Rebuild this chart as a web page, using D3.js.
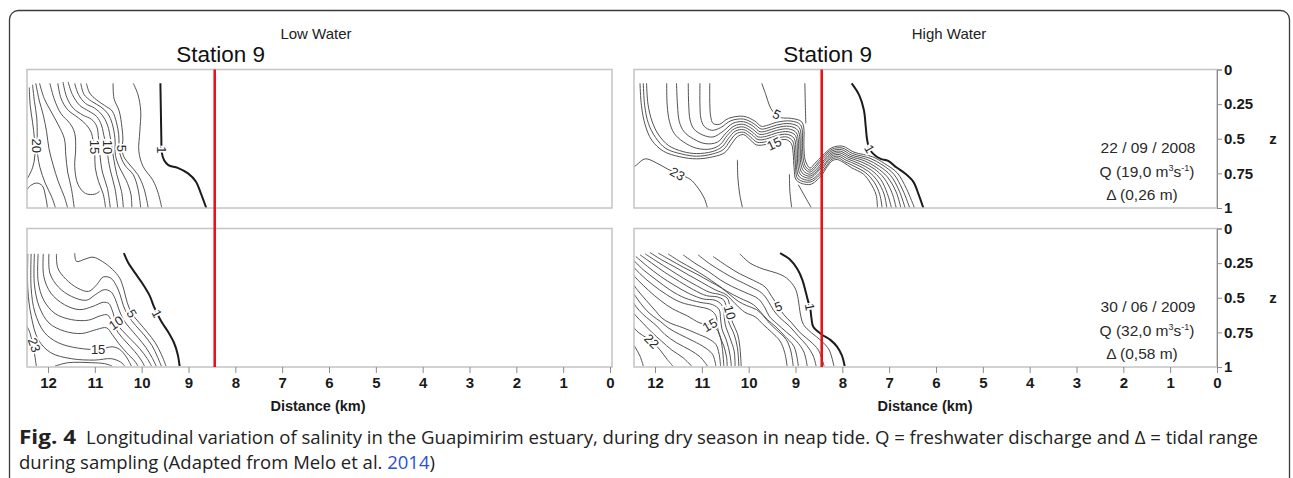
<!DOCTYPE html>
<html><head><meta charset="utf-8">
<script src="https://cdn.jsdelivr.net/npm/d3@7"></script>
<style>
body{margin:0;background:#fff;}
svg{display:block;font-family:"Liberation Sans",Arial,sans-serif;}
</style></head><body>
<svg id="c" width="1293" height="478"></svg>
<script>
// ---------- axes values ----------
const distanceTicks = [12,11,10,9,8,7,6,5,4,3,2,1,0];
const depthTicks = [0,0.25,0.5,0.75,1];
const stationKm = 8.44;
const columnTitles = ["Low Water","High Water"];
const stationName = "Station 9";
const campaignDates = ["22 / 09 / 2008","30 / 06 / 2009"];
const discharges = ["19,0","32,0"];
const tidalRanges = ["0,26 m","0,58 m"];

// ---------- isohalines [distance km, relative depth z] ----------
// Low water, 22/09/2008
const lowWater2008 = [
 [[12.40,0.13],[12.38,0.26],[12.33,0.38],[12.29,0.50],[12.28,0.62],[12.33,0.71],[12.43,0.78],[12.49,0.81]],
 [[12.33,0.11],[12.29,0.23],[12.24,0.35],[12.23,0.48],[12.23,0.55],[12.22,0.62],[12.17,0.71],[12.06,0.82],[11.92,0.92],[11.84,1.0]],
 [[12.26,0.10],[12.19,0.22],[12.10,0.33],[12.03,0.45],[11.98,0.57],[11.89,0.69],[11.78,0.81],[11.65,0.92],[11.58,1.0]],
 [[12.18,0.10],[12.08,0.21],[11.94,0.30],[11.78,0.40],[11.65,0.50],[11.62,0.62],[11.58,0.74],[11.50,0.86],[11.44,1.0]],
 [[12.49,0.89],[12.38,0.84],[12.24,0.82],[12.12,0.84],[12.05,0.92],[12.01,1.0]],
 [[11.96,0.10],[11.86,0.22],[11.72,0.32],[11.53,0.39],[11.43,0.46],[11.41,0.58],[11.43,0.70],[11.36,0.83],[11.20,0.895],[11.00,0.90],[10.90,0.88]],
 [[11.79,0.10],[11.72,0.21],[11.58,0.29],[11.35,0.35],[11.18,0.40],[11.07,0.46],[11.04,0.51],[11.00,0.56],[11.00,0.62],[10.99,0.71],[10.92,0.81],[10.82,0.90],[10.77,1.0]],
 [[11.68,0.09],[11.60,0.20],[11.46,0.28],[11.25,0.33],[11.07,0.36],[10.96,0.41],[10.92,0.50],[10.89,0.62],[10.84,0.74],[10.73,0.86],[10.67,1.0]],
 [[11.57,0.09],[11.48,0.18],[11.32,0.26],[11.13,0.30],[10.96,0.34],[10.86,0.40],[10.79,0.50],[10.72,0.56],[10.72,0.63],[10.66,0.74],[10.57,0.86],[10.51,1.0]],
 [[11.43,0.10],[11.35,0.18],[11.20,0.245],[11.00,0.28],[10.84,0.33],[10.73,0.40],[10.66,0.51],[10.60,0.64],[10.53,0.76],[10.43,0.88],[10.39,1.0]],
 [[11.30,0.10],[11.23,0.18],[11.07,0.23],[10.87,0.27],[10.72,0.32],[10.63,0.39],[10.57,0.50],[10.56,0.62],[10.47,0.71],[10.33,0.80],[10.23,0.90],[10.21,1.0]],
 [[11.18,0.10],[11.11,0.17],[10.96,0.22],[10.79,0.26],[10.63,0.30],[10.54,0.38],[10.49,0.47],[10.47,0.60],[10.36,0.69],[10.18,0.76],[10.08,0.86],[10.02,1.0]],
 [[10.61,0.10],[10.59,0.21],[10.48,0.30],[10.42,0.42],[10.40,0.51],[10.42,0.57],[10.38,0.63],[10.25,0.69],[10.08,0.76],[9.95,0.86],[9.86,1.0]],
 [[10.18,0.10],[10.08,0.18],[10.02,0.30],[10.04,0.45],[10.06,0.59],[9.97,0.70],[9.76,0.80],[9.65,0.89],[9.57,1.0]]
];
const lowWater2008Fresh = [[9.60,0.10],[9.59,0.30],[9.58,0.50],[9.57,0.60],[9.52,0.655],[9.43,0.69],[9.23,0.71],[9.01,0.75],[8.84,0.81],[8.74,0.89],[8.62,1.0]];
const lowWater2008Labels = [["20",12.24,0.55,90],["15",11.00,0.56,90],["10",10.72,0.56,90],["5",10.42,0.57,90],["1",9.57,0.58,90]];

// Low water, 30/06/2009
const lowWater2009 = [
 [[11.43,0.178],[11.39,0.238],[11.21,0.221],[11.04,0.207],[10.84,0.238],[10.63,0.293],[10.47,0.358],[10.38,0.442],[10.31,0.533],[10.21,0.614],[10.06,0.677],[9.88,0.749],[9.71,0.825],[9.58,0.909],[9.48,0.993]],
 [[11.82,0.183],[11.79,0.286],[11.62,0.365],[11.37,0.43],[11.13,0.454],[10.96,0.406],[10.82,0.35],[10.66,0.358],[10.54,0.413],[10.46,0.478],[10.39,0.557],[10.29,0.629],[10.13,0.70],[9.95,0.768],[9.78,0.845],[9.67,0.921],[9.58,0.993]],
 [[11.98,0.183],[11.96,0.322],[11.78,0.422],[11.50,0.49],[11.18,0.518],[10.99,0.478],[10.80,0.442],[10.66,0.456],[10.57,0.504],[10.49,0.581],[10.39,0.658],[10.25,0.72],[10.08,0.787],[9.91,0.859],[9.78,0.931],[9.69,0.993]],
 [[12.10,0.183],[12.09,0.346],[11.94,0.466],[11.65,0.55],[11.32,0.586],[11.04,0.562],[10.82,0.533],[10.70,0.542],[10.63,0.59],[10.54,0.682],[10.42,0.734],[10.23,0.801],[10.04,0.868],[9.88,0.94],[9.79,0.993]],
 [[12.21,0.183],[12.21,0.382],[12.09,0.518],[11.85,0.614],[11.50,0.658],[11.14,0.662],[10.87,0.629],[10.73,0.624],[10.63,0.677],[10.50,0.753],[10.33,0.82],[10.15,0.887],[10.01,0.95],[9.94,0.993]],
 [[12.29,0.183],[12.29,0.406],[12.19,0.562],[11.98,0.682],[11.65,0.741],[11.28,0.758],[10.96,0.729],[10.75,0.717],[10.63,0.765],[10.49,0.83],[10.32,0.897],[10.15,0.957],[10.08,0.993]],
 [[12.36,0.183],[12.36,0.43],[12.28,0.605],[12.08,0.749],[11.78,0.825],[11.35,0.864],[10.91,0.873],[10.63,0.854],[10.47,0.873],[10.33,0.926],[10.22,0.993]],
 [[12.43,0.183],[12.43,0.442],[12.36,0.629],[12.21,0.801],[11.94,0.897],[11.50,0.94],[11.00,0.95],[10.65,0.94],[10.45,0.964],[10.36,0.993]],
 [[12.49,0.214],[12.46,0.346],[12.45,0.466],[12.47,0.528],[12.49,0.542]],
 [[12.49,0.682],[12.39,0.749],[12.33,0.83],[12.28,0.921],[12.25,0.993]],
 [[11.85,0.993],[11.57,0.969],[11.07,0.969],[10.79,0.976],[10.63,0.993]]
];
const lowWater2009Fresh = [[10.38,0.178],[10.29,0.245],[10.15,0.317],[9.99,0.394],[9.83,0.485],[9.74,0.562],[9.67,0.614],[9.57,0.677],[9.43,0.749],[9.31,0.825],[9.23,0.909],[9.19,0.993]];
const lowWater2009Labels = [["1",9.67,0.614,63],["5",10.21,0.614,60],["10",10.55,0.68,-35],["15",10.93,0.873,0],["23",12.29,0.84,70]];

// High water, 22/09/2008
const highWater2008 = [
 [[12.32,0.10],[12.29,0.26],[12.21,0.40],[12.07,0.51],[11.82,0.59],[11.47,0.63],[11.11,0.645],[10.76,0.63],[10.51,0.60],[10.36,0.535],[10.24,0.485],[10.11,0.47],[9.97,0.506],[9.83,0.545],[9.62,0.54],[9.40,0.516],[9.20,0.506],[9.09,0.535],[9.05,0.605],[9.03,0.71],[8.98,0.80],[8.69,0.83],[8.46,0.77],[8.32,0.70],[8.22,0.66],[8.11,0.65],[7.98,0.67],[7.80,0.71],[7.55,0.755],[7.40,0.82],[7.28,0.904],[7.25,1.0]],
 [[12.25,0.10],[12.22,0.26],[12.14,0.39],[11.99,0.49],[11.77,0.57],[11.43,0.61],[11.11,0.626],[10.77,0.61],[10.54,0.578],[10.40,0.516],[10.27,0.465],[10.11,0.453],[9.96,0.487],[9.82,0.525],[9.62,0.521],[9.40,0.497],[9.19,0.487],[9.06,0.516],[9.02,0.597],[9.00,0.708],[8.95,0.789],[8.69,0.813],[8.48,0.76],[8.33,0.691],[8.22,0.648],[8.09,0.638],[7.95,0.665],[7.75,0.698],[7.50,0.746],[7.32,0.813],[7.20,0.904],[7.15,1.0]],
 [[12.18,0.10],[12.15,0.25],[12.06,0.377],[11.92,0.473],[11.71,0.549],[11.40,0.593],[11.11,0.607],[10.78,0.593],[10.57,0.559],[10.43,0.497],[10.29,0.446],[10.11,0.434],[9.94,0.468],[9.80,0.506],[9.62,0.501],[9.40,0.477],[9.18,0.468],[9.03,0.497],[8.99,0.593],[8.98,0.70],[8.92,0.775],[8.69,0.799],[8.49,0.748],[8.35,0.681],[8.22,0.636],[8.08,0.626],[7.92,0.655],[7.69,0.688],[7.44,0.736],[7.25,0.804],[7.11,0.899],[7.05,1.0]],
 [[11.75,0.10],[11.74,0.257],[11.69,0.377],[11.59,0.461],[11.40,0.521],[11.11,0.569],[10.80,0.573],[10.60,0.54],[10.46,0.477],[10.30,0.427],[10.11,0.415],[9.93,0.449],[9.79,0.487],[9.62,0.482],[9.40,0.458],[9.16,0.449],[9.00,0.477],[8.96,0.588],[8.95,0.693],[8.89,0.76],[8.69,0.784],[8.52,0.736],[8.36,0.672],[8.22,0.624],[8.07,0.614],[7.89,0.645],[7.64,0.679],[7.38,0.727],[7.18,0.794],[7.04,0.895],[6.95,1.0]],
 [[11.54,0.10],[11.52,0.257],[11.48,0.377],[11.38,0.449],[11.18,0.501],[10.93,0.535],[10.67,0.525],[10.48,0.458],[10.31,0.408],[10.11,0.396],[9.92,0.429],[9.77,0.468],[9.62,0.463],[9.40,0.439],[9.15,0.429],[8.98,0.458],[8.93,0.583],[8.92,0.684],[8.86,0.746],[8.69,0.77],[8.52,0.724],[8.38,0.662],[8.22,0.612],[8.05,0.602],[7.86,0.636],[7.58,0.669],[7.32,0.717],[7.11,0.784],[6.94,0.89],[6.85,1.0]],
 [[11.29,0.10],[11.28,0.257],[11.25,0.365],[11.17,0.429],[10.98,0.473],[10.76,0.487],[10.54,0.444],[10.34,0.389],[10.11,0.377],[9.90,0.41],[9.76,0.449],[9.62,0.444],[9.40,0.42],[9.13,0.41],[8.95,0.439],[8.90,0.578],[8.89,0.674],[8.83,0.732],[8.69,0.756],[8.53,0.712],[8.39,0.652],[8.22,0.60],[8.04,0.59],[7.84,0.626],[7.52,0.66],[7.27,0.708],[7.04,0.775],[6.85,0.885],[6.75,1.0]],
 [[11.04,0.10],[11.04,0.257],[11.02,0.353],[10.95,0.41],[10.79,0.439],[10.60,0.42],[10.38,0.37],[10.11,0.358],[9.89,0.391],[9.74,0.429],[9.62,0.425],[9.40,0.401],[9.12,0.391],[8.92,0.42],[8.88,0.573],[8.86,0.665],[8.80,0.717],[8.69,0.741],[8.55,0.70],[8.41,0.643],[8.22,0.588],[8.02,0.578],[7.81,0.617],[7.47,0.65],[7.21,0.698],[6.97,0.765],[6.78,0.88],[6.66,1.0]],
 [[10.83,0.10],[10.83,0.245],[10.81,0.341],[10.76,0.389],[10.63,0.396],[10.43,0.353],[10.11,0.338],[9.87,0.372],[9.73,0.41],[9.62,0.405],[9.40,0.381],[9.10,0.372],[8.89,0.401],[8.85,0.569],[8.83,0.655],[8.78,0.703],[8.69,0.727],[8.56,0.688],[8.42,0.633],[8.22,0.576],[8.01,0.566],[7.78,0.607],[7.41,0.641],[7.15,0.688],[6.90,0.756],[6.71,0.87],[6.56,1.0]],
 [[9.72,0.10],[9.63,0.185],[9.56,0.257],[9.49,0.30],[9.40,0.329],[9.30,0.348],[9.09,0.353],[8.86,0.381],[8.82,0.564],[8.80,0.645],[8.75,0.688],[8.69,0.712],[8.58,0.676],[8.43,0.624],[8.22,0.564],[7.99,0.554],[7.75,0.597],[7.35,0.631],[7.10,0.679],[6.83,0.746],[6.63,0.861],[6.46,1.0]],
 [[12.53,0.724],[12.39,0.688],[12.21,0.645],[11.96,0.676],[11.74,0.717],[11.52,0.753],[11.25,0.792],[11.08,0.856],[10.95,0.928],[10.88,1.0]],
 [[10.24,0.652],[10.23,0.784],[10.19,0.904],[10.13,1.0]],
 [[9.13,0.756],[9.12,0.88],[9.08,1.0]],
 [[8.94,0.832],[8.80,0.916],[8.66,1.0]],
 [[8.80,0.10],[8.79,0.257],[8.78,0.389]]
];
const highWater2008Fresh = [[7.80,0.10],[7.64,0.185],[7.54,0.293],[7.50,0.413],[7.47,0.509],[7.42,0.573],[7.30,0.621],[7.18,0.645],[7.02,0.66],[6.84,0.708],[6.66,0.751],[6.48,0.813],[6.37,0.904],[6.27,1.0]];
const highWater2008Labels = [["5",9.40,0.324,25],["15",9.46,0.535,-25],["23",11.52,0.753,30],["1",7.42,0.573,60]];

// High water, 30/06/2009
const highWater2009 = [
 [[10.19,0.183],[9.97,0.25],[9.69,0.293],[9.40,0.322],[9.19,0.358],[9.01,0.43],[8.94,0.514],[8.90,0.61],[8.83,0.693],[8.66,0.753],[8.44,0.813],[8.28,0.878],[8.18,0.993]],
 [[10.76,0.202],[10.47,0.269],[10.19,0.327],[9.90,0.374],[9.65,0.422],[9.51,0.49],[9.37,0.562],[9.25,0.622],[9.08,0.682],[8.90,0.753],[8.69,0.813],[8.51,0.878],[8.39,0.993]],
 [[11.08,0.19],[10.83,0.255],[10.54,0.317],[10.26,0.37],[9.97,0.418],[9.72,0.466],[9.58,0.526],[9.47,0.59],[9.33,0.645],[9.13,0.705],[8.94,0.777],[8.76,0.844],[8.62,0.921],[8.56,0.993]],
 [[11.40,0.19],[11.15,0.25],[10.86,0.31],[10.61,0.37],[10.36,0.418],[10.08,0.461],[9.79,0.509],[9.65,0.574],[9.56,0.634],[9.40,0.686],[9.19,0.749],[8.98,0.813],[8.82,0.892],[8.75,0.993]],
 [[11.72,0.183],[11.47,0.238],[11.18,0.293],[10.91,0.35],[10.67,0.406],[10.46,0.454],[10.19,0.502],[9.90,0.55],[9.74,0.605],[9.60,0.658],[9.42,0.71],[9.23,0.777],[9.03,0.854],[8.94,0.993]],
 [[11.93,0.178],[11.68,0.226],[11.40,0.279],[11.11,0.329],[10.83,0.382],[10.58,0.43],[10.40,0.478],[10.22,0.526],[10.04,0.557],[9.83,0.586],[9.69,0.629],[9.56,0.682],[9.40,0.734],[9.20,0.801],[9.10,0.885],[9.05,0.993]],
 [[12.11,0.173],[11.86,0.226],[11.57,0.279],[11.29,0.334],[11.00,0.389],[10.72,0.442],[10.48,0.478],[10.29,0.542],[10.08,0.605],[9.86,0.638],[9.69,0.693],[9.51,0.749],[9.33,0.813],[9.23,0.897],[9.18,0.993]],
 [[12.21,0.183],[11.96,0.238],[11.68,0.298],[11.40,0.358],[11.11,0.413],[10.83,0.461],[10.60,0.478],[10.46,0.502],[10.41,0.55],[10.40,0.605],[10.34,0.682],[10.24,0.758],[10.19,0.849],[10.16,0.993]],
 [[12.32,0.19],[12.07,0.25],[11.79,0.317],[11.48,0.382],[11.18,0.442],[10.90,0.485],[10.67,0.494],[10.53,0.518],[10.47,0.581],[10.43,0.67],[10.31,0.765],[10.24,0.861],[10.21,0.993]],
 [[12.41,0.202],[12.16,0.274],[11.88,0.346],[11.57,0.413],[11.27,0.47],[10.97,0.509],[10.72,0.518],[10.58,0.55],[10.53,0.614],[10.50,0.693],[10.40,0.789],[10.31,0.885],[10.29,0.993]],
 [[12.48,0.221],[12.25,0.298],[11.96,0.374],[11.67,0.446],[11.36,0.502],[11.04,0.533],[10.77,0.55],[10.63,0.586],[10.60,0.653],[10.57,0.725],[10.47,0.813],[10.40,0.909],[10.37,0.993]],
 [[12.53,0.25],[12.32,0.327],[12.05,0.406],[11.75,0.478],[11.45,0.533],[11.11,0.562],[10.83,0.586],[10.70,0.629],[10.67,0.70],[10.63,0.765],[10.53,0.849],[10.47,0.933],[10.46,0.993]],
 [[12.53,0.31],[12.36,0.374],[12.14,0.446],[11.89,0.518],[11.62,0.581],[11.32,0.629],[11.04,0.682],[10.83,0.696],[10.67,0.734],[10.61,0.777],[10.56,0.873],[10.53,0.993]],
 [[12.53,0.37],[12.38,0.442],[12.19,0.518],[11.98,0.598],[11.86,0.645],[11.68,0.682],[11.40,0.717],[11.11,0.758],[10.86,0.796],[10.70,0.837],[10.63,0.909],[10.60,0.993]],
 [[12.53,0.43],[12.39,0.502],[12.21,0.581],[12.04,0.634],[11.89,0.67],[11.72,0.717],[11.47,0.765],[11.18,0.813],[10.93,0.861],[10.77,0.909],[10.70,0.993]],
 [[12.53,0.49],[12.41,0.562],[12.25,0.622],[12.11,0.662],[11.96,0.705],[11.79,0.765],[11.54,0.825],[11.25,0.878],[11.04,0.926],[10.88,0.993]],
 [[12.53,0.574],[12.41,0.629],[12.25,0.686],[12.07,0.749],[11.86,0.813],[11.64,0.878],[11.40,0.933],[11.22,0.993]],
 [[12.53,0.682],[12.36,0.749],[12.18,0.789],[12.05,0.82],[11.89,0.878],[11.74,0.945],[11.62,0.993]],
 [[12.53,0.801],[12.43,0.854],[12.32,0.921],[12.25,0.993]]
];
const highWater2009Fresh = [[9.33,0.178],[9.13,0.221],[8.96,0.293],[8.85,0.374],[8.78,0.461],[8.73,0.526],[8.69,0.566],[8.66,0.645],[8.62,0.71],[8.44,0.765],[8.25,0.806],[8.11,0.854],[8.01,0.916],[7.95,0.993]];
const highWater2009Labels = [["1",8.69,0.566,80],["5",9.37,0.562,-20],["10",10.40,0.605,75],["15",10.83,0.696,-30],["22",12.07,0.813,45]];

// ---------- drawing ----------
const svg = d3.select("#c");
const xLeft = d3.scaleLinear().domain([12,0]).range([48,610]);
const xRight = d3.scaleLinear().domain([12,0]).range([655,1217]);
const yTop = d3.scaleLinear().domain([0,1]).range([69.5,208]);
const yBot = d3.scaleLinear().domain([0,1]).range([228.5,367]);

// outer rounded frame
svg.append("rect").attr("x",9.5).attr("y",10.5).attr("width",1280).attr("height",560)
  .attr("rx",9).attr("fill","none").attr("stroke","#3a3a3a").attr("stroke-width",1.3);

const panels = [
 {lines: lowWater2008, fresh: lowWater2008Fresh, labels: lowWater2008Labels, x: xLeft, y: yTop, x0: 27, x1: 612},
 {lines: lowWater2009, fresh: lowWater2009Fresh, labels: lowWater2009Labels, x: xLeft, y: yBot, x0: 27, x1: 612},
 {lines: highWater2008, fresh: highWater2008Fresh, labels: highWater2008Labels, x: xRight, y: yTop, x0: 634, x1: 1217},
 {lines: highWater2009, fresh: highWater2009Fresh, labels: highWater2009Labels, x: xRight, y: yBot, x0: 634, x1: 1217}
];

panels.forEach((p, i) => {
  const [ya, yb] = p.y.range();
  const clipId = "clip" + i;
  svg.append("clipPath").attr("id", clipId).append("rect")
    .attr("x", p.x0).attr("y", ya).attr("width", p.x1 - p.x0).attr("height", yb - ya);
  const g = svg.append("g").attr("clip-path", `url(#${clipId})`);
  const line = d3.line().x(d => p.x(d[0])).y(d => p.y(d[1])).curve(d3.curveCatmullRom.alpha(0.5));
  g.selectAll("path.iso").data(p.lines).join("path").attr("class","iso")
    .attr("d", line).attr("fill","none").attr("stroke","#4a4a4a").attr("stroke-width",0.95);
  g.append("path").datum(p.fresh).attr("d", line).attr("fill","none")
    .attr("stroke","#1c1c1c").attr("stroke-width",2);
  g.selectAll("text.lab").data(p.labels).join("text").attr("class","lab")
    .attr("transform", d => `translate(${p.x(d[1])},${p.y(d[2])}) rotate(${d[3]})`)
    .attr("text-anchor","middle").attr("dy","0.36em")
    .attr("font-size",13).attr("fill","#2a2a2a")
    .attr("stroke","#fff").attr("stroke-width",3.5).attr("paint-order","stroke")
    .text(d => d[0]);
  svg.append("rect").attr("x", p.x0).attr("y", ya).attr("width", p.x1 - p.x0).attr("height", yb - ya)
    .attr("fill","none").attr("stroke","#c4c4c4").attr("stroke-width",1.5);
});

// station lines
[xLeft, xRight].forEach(x => {
  svg.append("line").attr("x1", x(stationKm)).attr("x2", x(stationKm))
    .attr("y1", yTop(0)).attr("y2", yBot(1)).attr("stroke","#e3141c").attr("stroke-width",2.6);
  svg.append("text").attr("x", x(stationKm) + 6).attr("y", 62).attr("text-anchor","middle")
    .attr("font-size",22.5).attr("fill","#111").text(stationName);
});

// column titles
svg.append("text").attr("x",316).attr("y",39).attr("text-anchor","middle").attr("font-size",15).attr("fill","#222").text(columnTitles[0]);
svg.append("text").attr("x",949).attr("y",39).attr("text-anchor","middle").attr("font-size",15).attr("fill","#222").text(columnTitles[1]);

// distance axes
[xLeft, xRight].forEach(x => {
  const g = svg.append("g").attr("transform", `translate(0,${yBot(1)})`)
    .call(d3.axisBottom(x).tickValues(distanceTicks).tickSize(6).tickPadding(4).tickFormat(d3.format("d")));
  g.select(".domain").remove();
  g.selectAll(".tick line").attr("stroke","#8a8a8a");
  g.selectAll(".tick text").attr("font-family","'Liberation Sans',Arial,sans-serif")
    .attr("font-size",15).attr("font-weight","bold").attr("fill","#1a1a1a");
  const [r0, r1] = x.range();
  svg.append("text").attr("x", (r0 + r1) / 2 - 11).attr("y", 411).attr("text-anchor","middle")
    .attr("font-size",14.5).attr("font-weight","bold").attr("fill","#1a1a1a").text("Distance (km)");
});

// depth axes + annotations
[[yTop,0],[yBot,1]].forEach(([y, k]) => {
  const g = svg.append("g").attr("transform", `translate(1217,0)`)
    .call(d3.axisRight(y).tickValues(depthTicks).tickSize(5).tickPadding(2).tickFormat(d => String(d)));
  g.select(".domain").attr("stroke","#8a8a8a");
  g.selectAll(".tick line").attr("stroke","#8a8a8a");
  g.selectAll(".tick text").attr("font-family","'Liberation Sans',Arial,sans-serif")
    .attr("font-size",15).attr("font-weight","bold").attr("fill","#1a1a1a");
  svg.append("text").attr("x",1273).attr("y", y(0.5) + 5).attr("text-anchor","middle")
    .attr("font-size",15).attr("font-weight","bold").attr("fill","#1a1a1a").text("z");
  const base = y(0);
  const ann = svg.append("g").attr("font-size",15.5).attr("fill","#2a2a2a").attr("text-anchor","middle");
  ann.append("text").attr("x",1148).attr("y", base + 83).text(campaignDates[k]);
  const q = ann.append("text").attr("x",1147).attr("y", base + 107);
  q.append("tspan").text(`Q (${discharges[k]} m`);
  q.append("tspan").attr("font-size",9).attr("dy",-6).text("3");
  q.append("tspan").attr("dy",6).text("s");
  q.append("tspan").attr("font-size",9).attr("dy",-6).text("-1");
  q.append("tspan").attr("dy",6).text(")");
  ann.append("text").attr("x",1142).attr("y", base + 130).text(`\u0394 (${tidalRanges[k]})`);
});

// caption
const cap = svg.append("g").attr("font-family","'Open Sans','Noto Sans',sans-serif").attr("fill","#222");
cap.append("text").attr("x",19).attr("y",444).attr("font-size",19).attr("font-weight","bold")
  .attr("textLength",57).attr("lengthAdjust","spacingAndGlyphs").text("Fig. 4");
cap.append("text").attr("x",86).attr("y",444).attr("font-size",18.5)
  .attr("textLength",1172).attr("lengthAdjust","spacingAndGlyphs")
  .text("Longitudinal variation of salinity in the Guapimirim estuary, during dry season in neap tide. Q = freshwater discharge and \u0394 = tidal range");
const l2 = cap.append("text").attr("x",19).attr("y",469).attr("font-size",18.5)
  .attr("textLength",416).attr("lengthAdjust","spacingAndGlyphs");
l2.append("tspan").text("during sampling (Adapted from Melo et al. ");
l2.append("tspan").attr("fill","#2b50d6").text("2014");
l2.append("tspan").text(")");
</script>
</body></html>
